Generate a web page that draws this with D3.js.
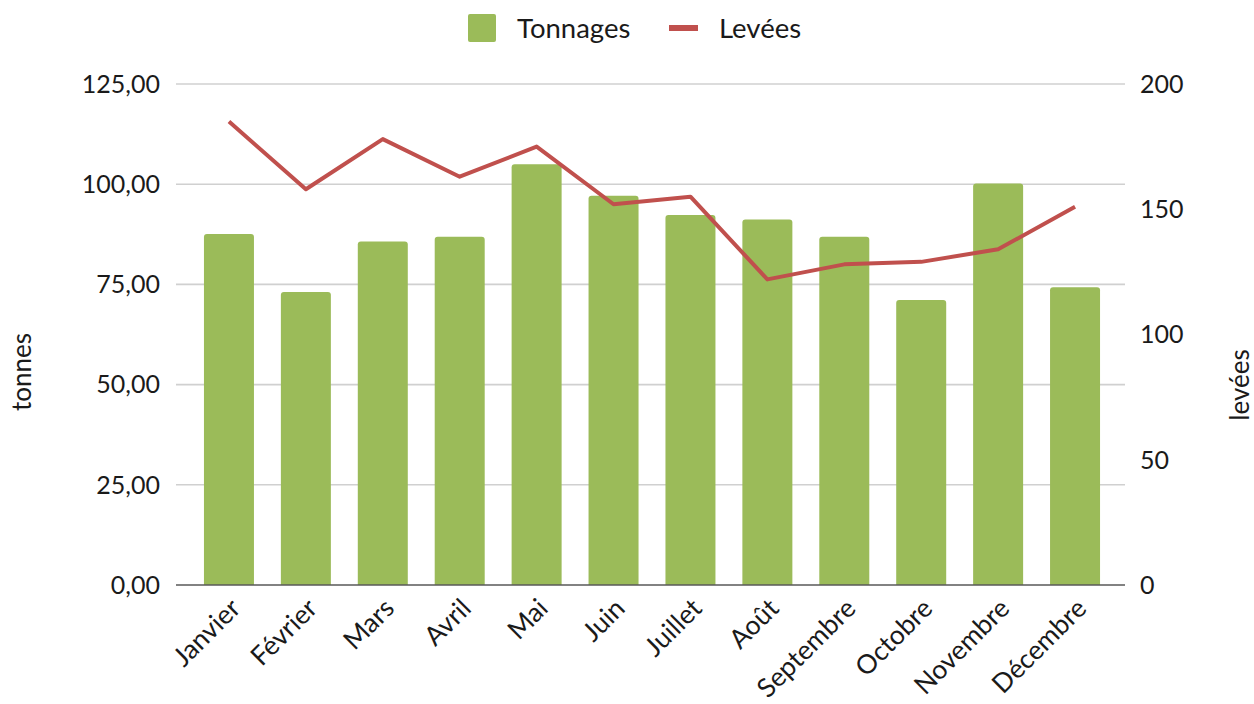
<!DOCTYPE html>
<html><head><meta charset="utf-8">
<script src="https://cdn.jsdelivr.net/npm/d3@7"></script>
<style>body{margin:0;background:#fff}svg{display:block}text{font-family:Lato,"Open Sans",sans-serif;fill:#1a1a1a}</style>
</head><body><svg id="c" width="1254" height="704"></svg>
<script>
const months = ["Janvier","Février","Mars","Avril","Mai","Juin","Juillet","Août","Septembre","Octobre","Novembre","Décembre"];
const tonnages = [87.6,73.1,85.7,86.9,105.0,97.1,92.3,91.2,86.9,71.1,100.2,74.3];
const levees = [185,158,178,163,175,152,155,122,128,129,134,151];
const leftTicks = [0,25,50,75,100,125];
const rightTicks = [0,50,100,150,200];

const svg = d3.select("#c");
const X0 = 176, X1 = 1125, Y0 = 585, Y1 = 84;
const x = d3.scaleBand().domain(months).range([190.5, 1113.5]).paddingInner(0.35).paddingOuter(0.175);
const yL = d3.scaleLinear().domain([0,125]).range([Y0, Y1]);
const yR = d3.scaleLinear().domain([0,200]).range([Y0, Y1]);
const fmt = d => d3.format(".2f")(d).replace(".", ",");

// gridlines
svg.append("g").selectAll("line").data(leftTicks.filter(d=>d>0)).join("line")
  .attr("x1", X0).attr("x2", X1).attr("y1", d=>yL(d)).attr("y2", d=>yL(d))
  .attr("stroke", "#d0d0d0").attr("stroke-width", 1.6);

// bars
svg.append("g").selectAll("path").data(tonnages).join("path")
  .attr("fill", "#9BBB59")
  .attr("d", (d,i) => {
    const bx = x(months[i]), w = x.bandwidth(), ty = yL(d), r = 3;
    return `M${bx},${Y0}V${ty+r}Q${bx},${ty} ${bx+r},${ty}H${bx+w-r}Q${bx+w},${ty} ${bx+w},${ty+r}V${Y0}Z`;
  });

// axis line
svg.append("line").attr("x1", X0).attr("x2", X1).attr("y1", Y0).attr("y2", Y0)
  .attr("stroke", "#595959").attr("stroke-width", 1.6);

// line
const line = d3.line().x((d,i)=>x(months[i]) + x.bandwidth()/2).y(d=>yR(d));
svg.append("path").datum(levees).attr("d", line).attr("fill","none")
  .attr("stroke","#C0504D").attr("stroke-width",4).attr("stroke-linejoin","round");

// left ticks
svg.append("g").selectAll("text").data(leftTicks).join("text")
  .attr("x", 160).attr("y", d=>yL(d)).attr("dy","0.35em").attr("text-anchor","end")
  .attr("font-size", 25).text(fmt);
// right ticks
svg.append("g").selectAll("text").data(rightTicks).join("text")
  .attr("x", 1140).attr("y", d=>yR(d)).attr("dy","0.35em").attr("text-anchor","start")
  .attr("font-size", 25).text(d=>d);

// x labels
svg.append("g").selectAll("text").data(months).join("text")
  .attr("transform", d => `translate(${x(d)+x.bandwidth()/2+13},${610}) rotate(-45)`)
  .attr("text-anchor","end").attr("font-size", 26.5).text(d=>d);

// axis titles
svg.append("text").attr("transform", `translate(31,372) rotate(-90)`).attr("text-anchor","middle")
  .attr("font-size", 26).text("tonnes");
svg.append("text").attr("transform", `translate(1249,385) rotate(-90)`).attr("text-anchor","middle")
  .attr("font-size", 26).text("levées");

// legend
const lg = svg.append("g");
lg.append("rect").attr("x",468).attr("y",14).attr("width",28).attr("height",28).attr("rx",2).attr("fill","#9BBB59");
lg.append("text").attr("x",517).attr("y",28).attr("dy","0.35em").attr("font-size",27.5).text("Tonnages");
lg.append("rect").attr("x",669).attr("y",25).attr("width",29).attr("height",6).attr("fill","#C0504D");
lg.append("text").attr("x",719).attr("y",28).attr("dy","0.35em").attr("font-size",27.5).text("Levées");
</script></body></html>
